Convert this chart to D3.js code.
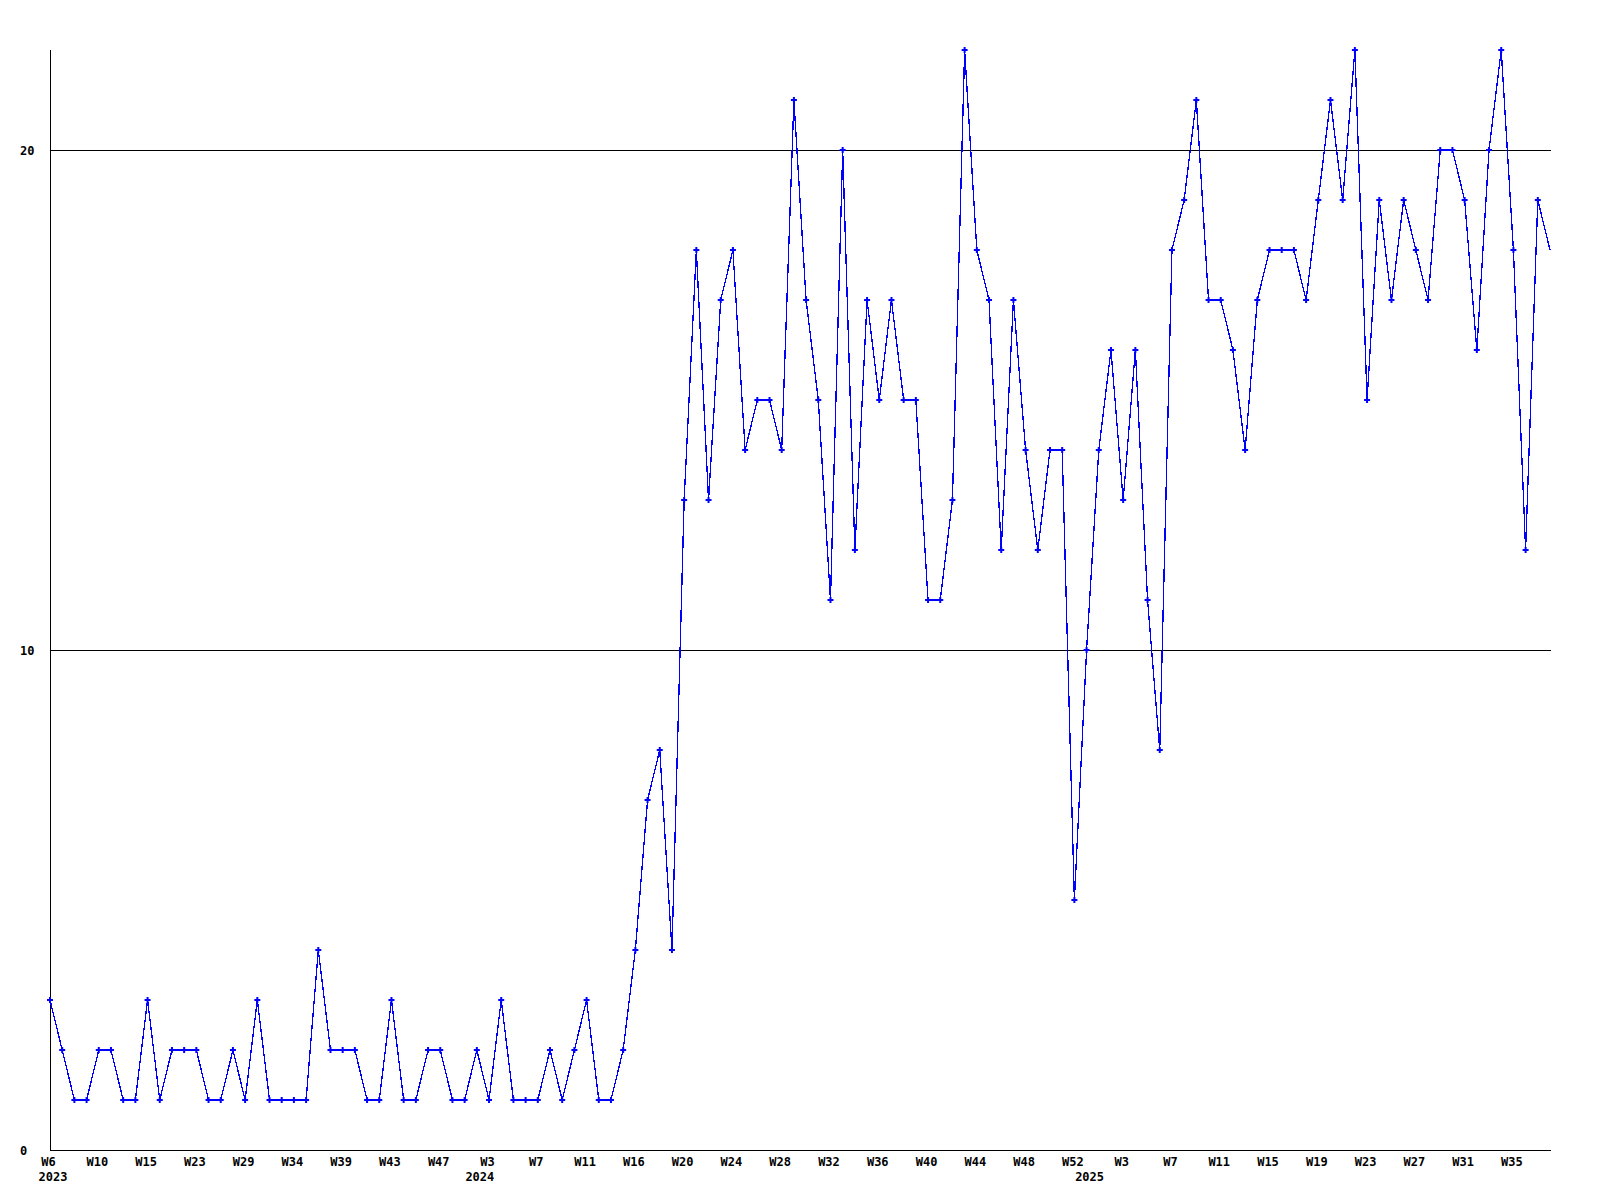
<!DOCTYPE html>
<html>
<head>
<meta charset="utf-8">
<script src="https://cdn.jsdelivr.net/npm/d3@7"></script>
<style>
  html, body { margin: 0; padding: 0; background: #fff; }
  svg { display: block; }
  text { font-family: "DejaVu Sans Mono", "Liberation Mono", monospace; font-weight: bold; font-size: 12px; fill: #000; }
</style>
</head>
<body>
<svg id="chart" width="1600" height="1200"></svg>
<script>
// ---- data ----
const values = [
  3, 2, 1, 1, 2, 2, 1, 1, 3, 1,
  2, 2, 2, 1, 1, 2, 1, 3, 1, 1,
  1, 1, 4, 2, 2, 2, 1, 1, 3, 1,
  1, 2, 2, 1, 1, 2, 1, 3, 1, 1,
  1, 2, 1, 2, 3, 1, 1, 2, 4, 7,
  8, 4, 13, 18, 13, 17, 18, 14, 15, 15,
  14, 21, 17, 15, 11, 20, 12, 17, 15, 17,
  15, 15, 11, 11, 13, 22, 18, 17, 12, 17,
  14, 12, 14, 14, 5, 10, 14, 16, 13, 16,
  11, 8, 18, 19, 21, 17, 17, 16, 14, 17,
  18, 18, 18, 17, 19, 21, 19, 22, 15, 19,
  17, 19, 18, 17, 20, 20, 19, 16, 20, 22,
  18, 12, 19, 18
];
// week labels shown on every 4th point
const weekTicks = ["W6","W10","W15","W23","W29","W34","W39","W43","W47","W3","W7",
  "W11","W16","W20","W24","W28","W32","W36","W40","W44","W48","W52","W3","W7",
  "W11","W15","W19","W23","W27","W31","W35"];
const tickStep = 4;
// year labels and the point index where each year begins
const yearNames = ["2023", "2024", "2025"];
const yearStarts = [0, 35, 85];
const yTicks = [0, 10, 20];
const gridValues = [10, 20];

// ---- layout ----
const mLeft = 50, mRight = 1550, mTop = 50, mBottom = 1150;
const svg = d3.select("#chart");

const x = d3.scaleLinear().domain([0, values.length - 1]).range([mLeft, mRight]);
const y = d3.scaleLinear().domain([0, 22]).range([mBottom, mTop]);

// gridlines
svg.append("g").selectAll("line").data(gridValues).join("line")
  .attr("x1", mLeft).attr("x2", mRight + 1)
  .attr("y1", d => Math.round(y(d)) + 0.5).attr("y2", d => Math.round(y(d)) + 0.5)
  .attr("stroke", "#000").attr("stroke-width", 1).attr("shape-rendering", "crispEdges");

// axes lines
svg.append("line").attr("x1", mLeft + 0.5).attr("x2", mLeft + 0.5).attr("y1", mTop).attr("y2", mBottom + 1)
  .attr("stroke", "#000").attr("shape-rendering", "crispEdges");
svg.append("line").attr("x1", mLeft).attr("x2", mRight + 1).attr("y1", mBottom + 0.5).attr("y2", mBottom + 0.5)
  .attr("stroke", "#000").attr("shape-rendering", "crispEdges");

// y axis labels
const yAxis = d3.axisLeft(y).tickValues(yTicks).tickSize(0).tickPadding(0).tickFormat(d3.format("d"));
const gy = svg.append("g").attr("transform", `translate(${mLeft},0)`).call(yAxis);
gy.select(".domain").remove();
gy.attr("font-family", null).attr("font-size", null);
gy.selectAll("text").attr("x", 20 - mLeft).attr("text-anchor", "start")
  .attr("dy", "0.35em").style("font-size", "12px").style("font-family", null);

// x axis week labels
const tickIdx = weekTicks.map((_, i) => i * tickStep);
const xAxis = d3.axisBottom(x).tickValues(tickIdx).tickSize(0).tickPadding(0)
  .tickFormat((d, i) => weekTicks[i]);
const gx = svg.append("g").attr("transform", `translate(0,${mBottom})`).call(xAxis);
gx.select(".domain").remove();
gx.attr("font-family", null).attr("font-size", null);
gx.selectAll("text").attr("y", 16).attr("dy", 0).attr("dx", -2)
  .style("font-size", "12px").style("font-family", null);

// year labels
svg.append("g").selectAll("text").data(yearNames).join("text")
  .attr("x", (d, i) => x(yearStarts[i]) + 3)
  .attr("y", mBottom + 31)
  .attr("text-anchor", "middle")
  .text(d => d);

// line
const line = d3.line().x((d, i) => x(i)).y(d => y(d));
svg.append("path").datum(values)
  .attr("d", line)
  .attr("fill", "none")
  .attr("stroke", "#0000ff")
  .attr("stroke-width", 1.3)
  .attr("shape-rendering", "crispEdges");

// markers (last point sits on the plot edge and has none)
svg.append("g").selectAll("path").data(values.slice(0, values.length - 1)).join("path")
  .attr("transform", (d, i) => `translate(${x(i)},${y(d)})`)
  .attr("d", d3.symbol().type(d3.symbolCross).size(20))
  .attr("fill", "#0000ff");
</script>
</body>
</html>
